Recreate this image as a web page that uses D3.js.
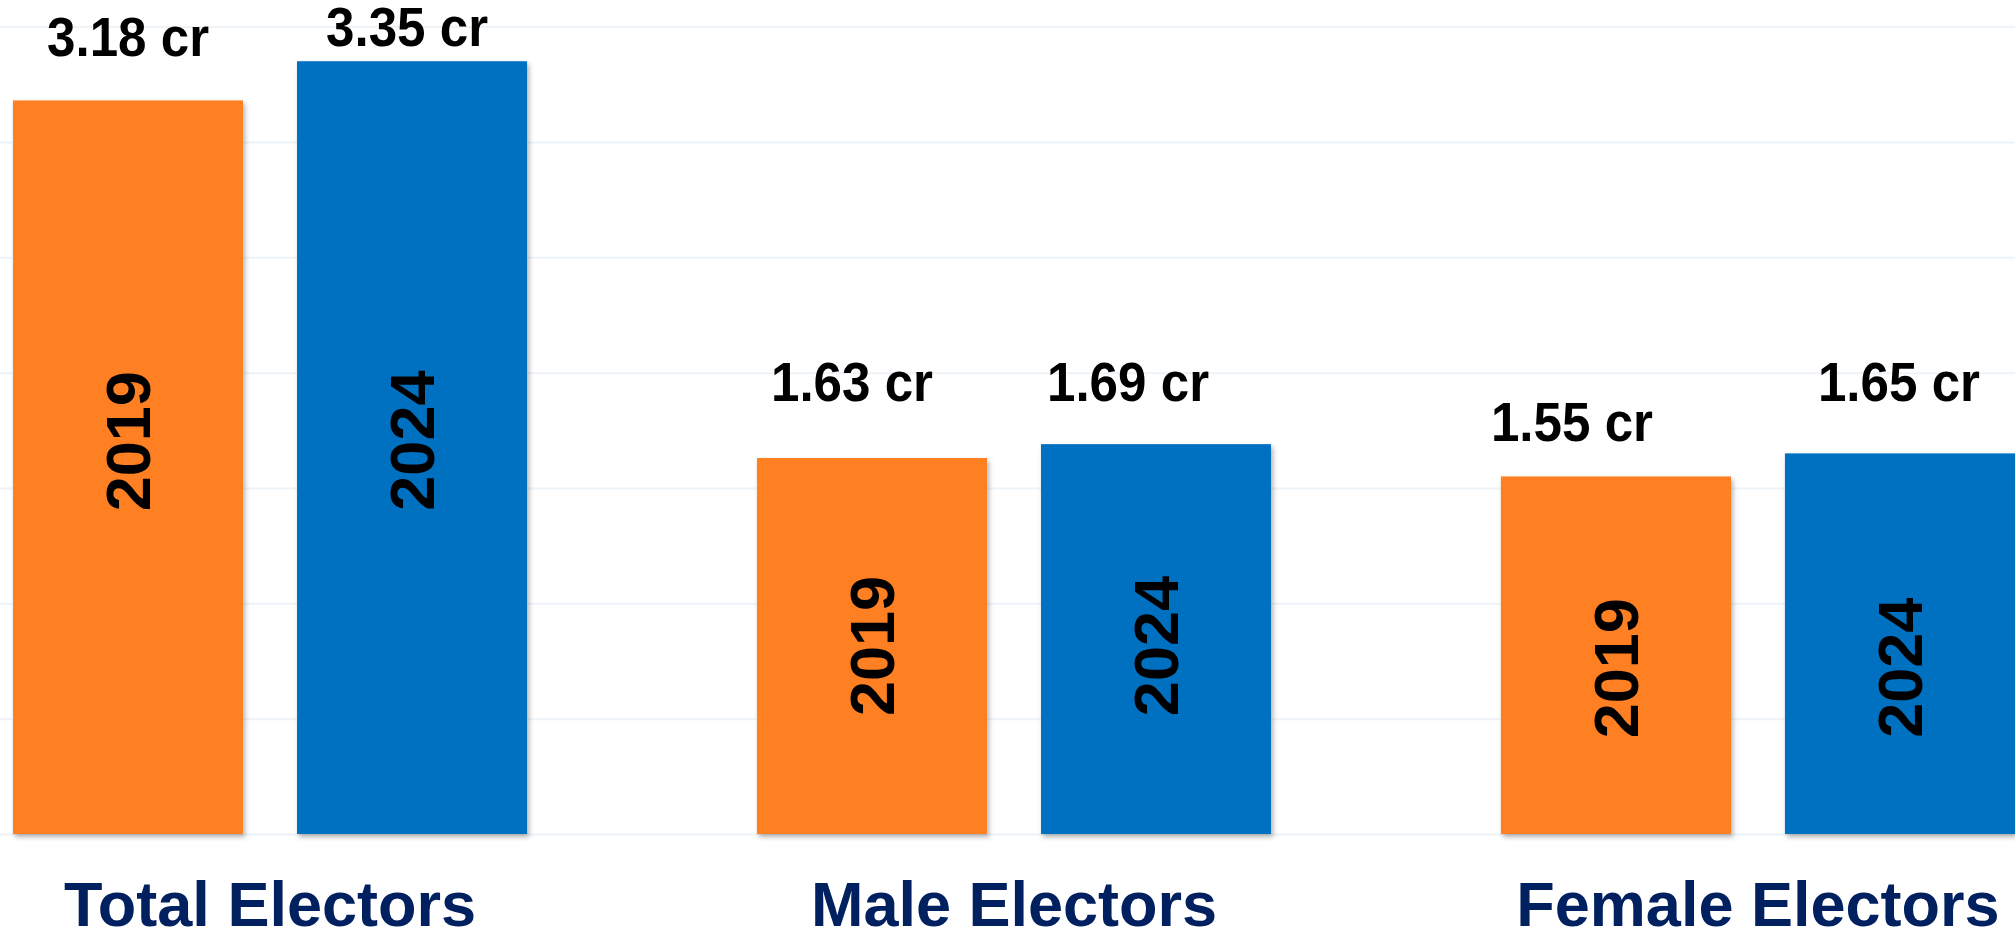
<!DOCTYPE html>
<html>
<head>
<meta charset="utf-8">
<script src="https://cdn.jsdelivr.net/npm/d3@7"></script>
<style>
  html, body { margin: 0; padding: 0; background: #fff; }
  svg { display: block; font-family: "Liberation Sans", Arial, sans-serif; }
</style>
</head>
<body>
<div id="chart"></div>
<script>
// ---------------- data ----------------
var categories = ["Total Electors", "Male Electors", "Female Electors"];
var years = ["2019", "2024"];
var electors2019 = [3.18, 1.63, 1.55];   // crore
var electors2024 = [3.35, 1.69, 1.65];   // crore
var gridTicks = [0, 0.5, 1, 1.5, 2, 2.5, 3, 3.5];

// ---------------- layout ----------------
var width = 2015, height = 935;
var colors = { "2019": "#fe8022", "2024": "#0070c0" };

// value label nudges (dx, gap above bar) and year label nudges (dy), per bar in draw order
var valueNudge = [[0, 44], [-5, 15], [-20, 57], [-28, 43], [-44, 35], [-1, 52]];
var yearNudge = [-26, -7, 0, 7, 13, 24];

// build rows from the arrays
var rows = [];
categories.forEach(function (c, i) {
    rows.push({ cat: c, year: "2019", value: electors2019[i] });
    rows.push({ cat: c, year: "2024", value: electors2024[i] });
});

var svg = d3.select("#chart").append("svg")
    .attr("width", width)
    .attr("height", height);

// soft shadow like the original
var defs = svg.append("defs");
defs.append("filter")
    .attr("id", "shadow")
    .attr("x", "-5%").attr("y", "-5%").attr("width", "115%").attr("height", "115%")
    .append("feDropShadow")
    .attr("dx", 2).attr("dy", 3)
    .attr("stdDeviation", 2.5)
    .attr("flood-color", "#000")
    .attr("flood-opacity", 0.3);

// scales
var x0 = d3.scaleBand()
    .domain(categories)
    .range([13, 2015])
    .paddingInner(0.309)
    .paddingOuter(0);

var x1 = d3.scaleBand()
    .domain(years)
    .range([0, x0.bandwidth()])
    .paddingInner(0.19);

var y = d3.scaleLinear()
    .domain([0, 3.52])
    .range([834, 22]);

// gridlines
var grid = svg.append("g")
    .attr("class", "grid")
    .call(d3.axisLeft(y).tickValues(gridTicks).tickSize(-width).tickFormat(""));
grid.select(".domain").remove();
grid.selectAll("line")
    .attr("stroke", "#eef3f8")
    .attr("stroke-width", 2);

// bars
svg.append("g")
    .selectAll("rect")
    .data(rows)
    .enter()
    .append("rect")
    .attr("x", function (d) { return x0(d.cat) + x1(d.year); })
    .attr("y", function (d) { return y(d.value); })
    .attr("width", x1.bandwidth())
    .attr("height", function (d) { return y(0) - y(d.value); })
    .attr("fill", function (d) { return colors[d.year]; })
    .attr("filter", "url(#shadow)");

// value labels above bars
svg.append("g")
    .selectAll("text")
    .data(rows)
    .enter()
    .append("text")
    .attr("transform", function (d, i) {
        var cx = x0(d.cat) + x1(d.year) + x1.bandwidth() / 2 + valueNudge[i][0];
        var cy = y(d.value) - valueNudge[i][1];
        return "translate(" + cx + "," + cy + ") scale(0.93,1)";
    })
    .attr("text-anchor", "middle")
    .style("font-size", "55px")
    .style("font-weight", "bold")
    .style("fill", "#000")
    .text(function (d) { return d.value.toFixed(2) + " cr"; });

// year labels inside bars, rotated
svg.append("g")
    .selectAll("text")
    .data(rows)
    .enter()
    .append("text")
    .attr("transform", function (d, i) {
        var cx = x0(d.cat) + x1(d.year) + x1.bandwidth() / 2;
        var cy = (y(d.value) + y(0)) / 2 + yearNudge[i];
        return "translate(" + cx + "," + cy + ") rotate(-90)";
    })
    .attr("text-anchor", "middle")
    .attr("dominant-baseline", "central")
    .style("font-size", "63px")
    .style("font-weight", "bold")
    .style("fill", "#000")
    .text(function (d) { return d.year; });

// category labels
svg.append("g")
    .selectAll("text")
    .data(categories)
    .enter()
    .append("text")
    .attr("x", function (d) { return x0(d) + x0.bandwidth() / 2; })
    .attr("y", 926)
    .attr("text-anchor", "middle")
    .style("font-size", "63px")
    .style("font-weight", "bold")
    .style("fill", "#002060")
    .text(function (d) { return d; });
</script>
</body>
</html>
